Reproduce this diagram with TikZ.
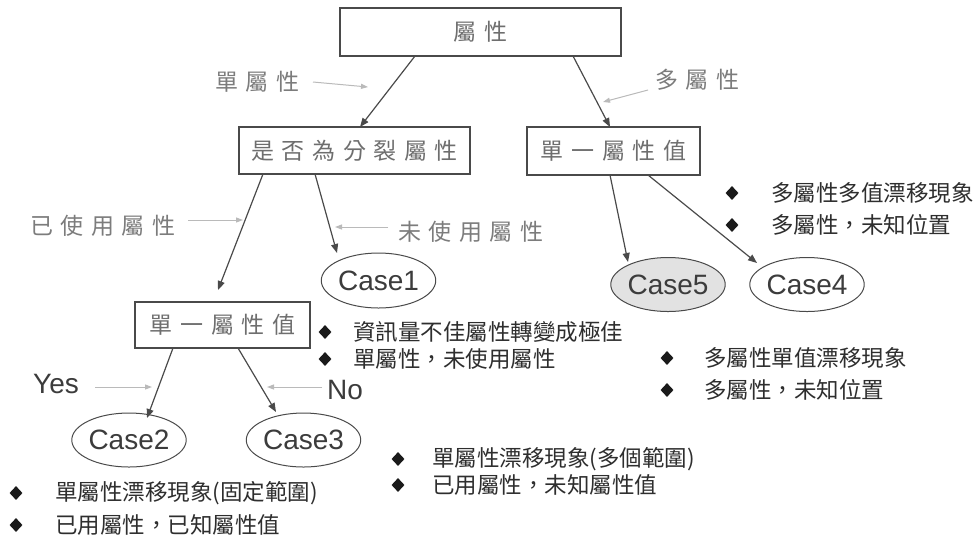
\documentclass[tikz,border=0pt]{standalone}
\usepackage{fontspec}
\setmainfont{Liberation Sans}
\newfontfamily\cjk{Noto Sans CJK TC}
\newfontfamily\cjkls[LetterSpace=33]{Noto Sans CJK TC}
\usetikzlibrary{shapes.geometric,calc,arrows.meta}
\definecolor{edge}{HTML}{4A4A4A}
\definecolor{boxtxt}{HTML}{6E6E6E}
\definecolor{lbl}{HTML}{7C7C7C}
\definecolor{garrow}{HTML}{BABABA}
\definecolor{casetxt}{HTML}{3C3C3C}
\definecolor{btxt}{HTML}{2E2E2E}
\definecolor{dia}{HTML}{1A1A1A}
\definecolor{c5fill}{HTML}{E2E2E2}
\tikzset{
  box/.style={draw=edge, line width=1.3pt, fill=white, inner sep=0pt, text=boxtxt,
    font=\cjkls\fontsize{23}{27}\selectfont},
  casenode/.style={ellipse, draw=edge, line width=1pt, inner sep=0pt, text=casetxt,
    font=\fontsize{28}{32}\selectfont, minimum width=112, minimum height=54},
  arr/.style={-{Triangle[length=9pt,width=7pt]}, draw=edge, line width=1.2pt},
  garr/.style={-{Triangle[length=7pt,width=5pt]}, draw=garrow, line width=1pt},
  lab/.style={text=lbl, font=\cjkls\fontsize{23}{27}\selectfont, inner sep=0pt, anchor=west},
  elab/.style={text=casetxt, font=\fontsize{28}{32}\selectfont, inner sep=0pt, anchor=west},
  bdia/.style={diamond, fill=dia, inner sep=0pt, minimum width=13, minimum height=14},
  btext/.style={text=btxt, font=\cjk\fontsize{22.5}{26}\selectfont, inner sep=0pt, anchor=west}
}
\begin{document}
\begin{tikzpicture}[x=1pt,y=-1pt]
\useasboundingbox[fill=white] (0,0) rectangle (977,542);

% boxes
\node[box, minimum width=281, minimum height=48] (T) at (480.5,32) {屬性};
\node[box, minimum width=231, minimum height=47] (S) at (354.5,150.5) {是否為分裂屬性};
\node[box, minimum width=173, minimum height=48] (R) at (613.5,151) {單一屬性值};
\node[box, minimum width=175, minimum height=46] (L) at (222.5,325) {單一屬性值};

% ellipses
\node[casenode, minimum width=113, minimum height=55] (C1) at (378.5,280.5) {Case1};
\node[casenode] (C2) at (129,440) {Case2};
\node[casenode] (C3) at (303.5,440) {Case3};
\node[casenode, fill=c5fill] (C5) at (668,284.5) {Case5};
\node[casenode] (C4) at (807,284.5) {Case4};

% main arrows
\draw[arr] ($(T)+(-65.5,24)$) -- ($(S)+(5.5,-23.5)$);
\draw[arr] ($(T)+(92.5,24)$) -- ($(R)+(-3.5,-24)$);
\draw[arr] ($(S)+(-91.5,23.5)$) -- ($(L)+(-4.5,-35)$);
\draw[arr] ($(S)+(-39.5,23.5)$) -- ($(C1)+(-41.5,-27.5)$);
\draw[arr] ($(R)+(-3.5,24)$) -- ($(C5)+(-40,-22.5)$);
\draw[arr] ($(R)+(34.5,24)$) -- ($(C4)+(-50,-21.5)$);
\draw[arr] ($(L)+(-49.5,23)$) -- ($(C2)+(18,-22)$);
\draw[arr] ($(L)+(15.5,23)$) -- ($(C3)+(-27.5,-28)$);

% edge labels
\node[lab] (l1) at (215,82) {單屬性};
\node[lab] (l2) at (655,80) {多屬性};
\node[lab] (l3) at (30,226) {已使用屬性};
\node[lab] (l4) at (398,232) {未使用屬性};
\node[elab] (l5) at (33,384) {Yes};
\node[elab] (l6) at (327,390) {No};

% gray pointer arrows
\coordinate (g1a) at (313,82);  \coordinate (g1b) at (368,87);
\coordinate (g2a) at (648,90);  \coordinate (g2b) at (603,102);
\coordinate (g3a) at (188,220); \coordinate (g3b) at (243,220);
\coordinate (g4a) at (388,227); \coordinate (g4b) at (335,227);
\coordinate (g5a) at (95,387);  \coordinate (g5b) at (152,387);
\coordinate (g6a) at (322,387); \coordinate (g6b) at (267,387);
\draw[garr] (g1a) -- (g1b);
\draw[garr] (g2a) -- (g2b);
\draw[garr] (g3a) -- (g3b);
\draw[garr] (g4a) -- (g4b);
\draw[garr] (g5a) -- (g5b);
\draw[garr] (g6a) -- (g6b);

% bullets
\node[bdia] (d1) at (16,493) {};  \node[btext] (t1) at (55,493) {單屬性漂移現象(固定範圍)};
\node[bdia] (d2) at (16,525) {};  \node[btext] (t2) at (55,525) {已用屬性，已知屬性值};
\node[bdia] (d3) at (325,332) {}; \node[btext] (t3) at (353,332) {資訊量不佳屬性轉變成極佳};
\node[bdia] (d4) at (325,359) {}; \node[btext] (t4) at (353,359) {單屬性，未使用屬性};
\node[bdia] (d5) at (398,459) {}; \node[btext] (t5) at (432,459) {單屬性漂移現象(多個範圍)};
\node[bdia] (d6) at (398,485) {}; \node[btext] (t6) at (432,485) {已用屬性，未知屬性值};
\node[bdia] (d7) at (667,358) {}; \node[btext] (t7) at (704,358) {多屬性單值漂移現象};
\node[bdia] (d8) at (667,390) {}; \node[btext] (t8) at (704,390) {多屬性，未知位置};
\node[bdia] (d9) at (732,193) {}; \node[btext] (t9) at (771,193) {多屬性多值漂移現象};
\node[bdia] (d10) at (732,225) {}; \node[btext] (t10) at (771,225) {多屬性，未知位置};
\end{tikzpicture}
\end{document}
